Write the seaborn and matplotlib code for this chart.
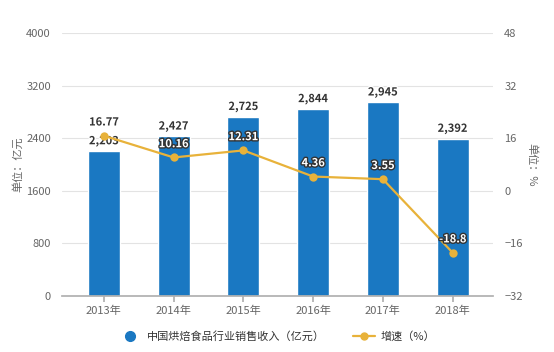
import numpy as np
import pandas as pd
import seaborn as sns
import matplotlib.pyplot as plt
import matplotlib.patheffects as pe
from matplotlib.lines import Line2D

years = ["2013年", "2014年", "2015年", "2016年", "2017年", "2018年"]
revenue = [2203, 2427, 2725, 2844, 2945, 2392]
growth = [16.77, 10.16, 12.31, 4.36, 3.55, -18.8]
growth_labels = ["16.77", "10.16", "12.31", "4.36", "3.55", "-18.8"]

sns.set_theme(style="white")
plt.rcParams['font.family'] = ['Noto Sans CJK SC', 'DejaVu Sans']

bar_color = "#1a78c2"
line_color = "#e8b23a"
tick_color = "#666666"

df = pd.DataFrame({"year": years, "revenue": revenue, "growth": growth})

fig = plt.figure(figsize=(5.54, 3.52), dpi=100)
ax = fig.add_axes([0.112, 0.159, 0.778, 0.747])

sns.barplot(data=df, x="year", y="revenue", color=bar_color, width=0.46,
            saturation=1, ax=ax, zorder=2)
ax.set_ylim(0, 4000)
ax.set_yticks(np.arange(0, 4001, 800))
ax.set_xlim(-0.6, 5.58)
ax.yaxis.grid(True, color="#e3e3e3", linewidth=0.8, zorder=0)
ax.set_axisbelow(True)
for s in ["top", "right", "left"]:
    ax.spines[s].set_visible(False)
ax.spines["bottom"].set_color("#b0b0b0")
ax.tick_params(axis="x", colors=tick_color, labelsize=8, length=4,
               bottom=True, color="#b0b0b0", pad=3)
ax.tick_params(axis="y", colors=tick_color, labelsize=8, length=0, pad=8)
ax.set_xlabel("")
ax.set_ylabel("单位：亿元", color=tick_color, fontsize=8, labelpad=2)

outline_w = [pe.withStroke(linewidth=2, foreground="white")]
outline_d = [pe.withStroke(linewidth=2, foreground="#333333")]

for i, v in enumerate(revenue):
    ax.text(i, v + 60, f"{v:,}", ha="center", va="bottom", fontsize=8,
            fontweight="bold", color="#333333", path_effects=outline_w, zorder=5)

ax2 = ax.twinx()
sns.lineplot(x=list(range(len(years))), y=growth, color=line_color, linewidth=1.6,
             marker="o", markersize=6, markeredgewidth=0, ax=ax2, zorder=4)
ax2.set_ylim(-32, 48)
ax2.set_yticks(np.arange(-32, 49, 16))
for s in ["top", "right", "left", "bottom"]:
    ax2.spines[s].set_visible(False)
ax2.tick_params(axis="y", colors=tick_color, labelsize=8, length=0, pad=8)
ax2.set_ylabel("单位：%", color=tick_color, fontsize=8, rotation=-90, labelpad=10)

for i, (v, lab) in enumerate(zip(growth, growth_labels)):
    if i == 0:
        ax2.text(i, v + 2.2, lab, ha="center", va="bottom", fontsize=8,
                 fontweight="bold", color="#333333", path_effects=outline_w, zorder=6)
    else:
        ax2.text(i, v + 2.2, lab, ha="center", va="bottom", fontsize=8,
                 fontweight="bold", color="white", path_effects=outline_d, zorder=6)

handles = [
    Line2D([], [], linestyle="none", marker="o", markersize=7, color=bar_color),
    Line2D([], [], color=line_color, linewidth=1.6, marker="o", markersize=5),
]
fig.legend(handles, ["中国烘焙食品行业销售收入（亿元）", "增速（%）"],
           loc="center", bbox_to_anchor=(0.5, 0.045), ncol=2, frameon=False,
           fontsize=8, handlelength=2, columnspacing=2.5, handletextpad=0.5,
           labelcolor="#333333")

fig.savefig("out.png", dpi=100)
